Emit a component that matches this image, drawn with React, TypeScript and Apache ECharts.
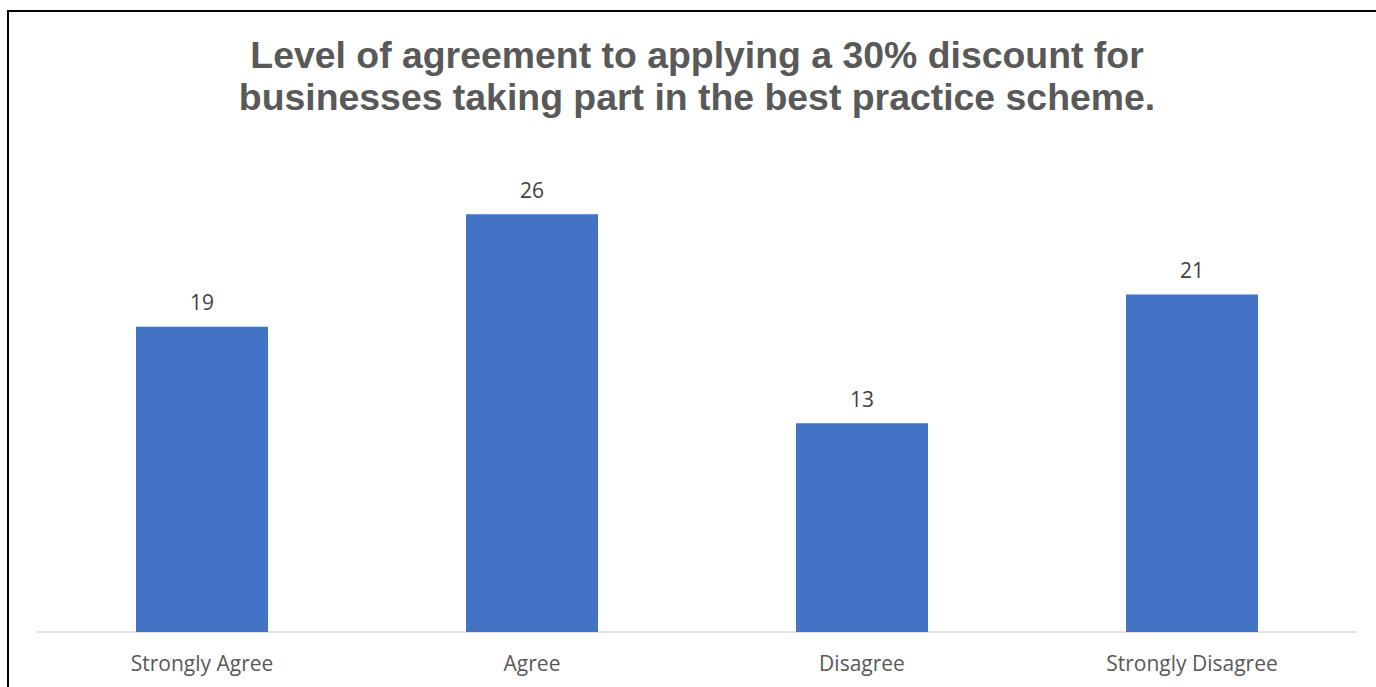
import React, { useEffect, useRef } from "react";
import * as echarts from "echarts";

const categories = ["Strongly Agree", "Agree", "Disagree", "Strongly Disagree"];
const values = [19, 26, 13, 21];
const titleLines = [
  "Level of agreement to applying a 30% discount for",
  "businesses taking part in the best practice scheme.",
];

export default function App() {
  const ref = useRef<HTMLDivElement>(null);
  useEffect(() => {
    if (!ref.current) return;
    const chart = echarts.init(ref.current, undefined, { renderer: "svg" });
    chart.setOption({
      animation: false,
      backgroundColor: "#ffffff",
      title: {
        text: titleLines.join("\n"),
        left: 692,
        top: 29,
        textAlign: "center",
        textStyle: {
          fontFamily: "Liberation Sans, Arial, sans-serif",
          fontWeight: "bold",
          fontSize: 37.4,
          lineHeight: 42,
          color: "#595959",
        },
      },
      graphic: [
        { type: "line", shape: { x1: 8, y1: 11, x2: 8, y2: 687 }, style: { stroke: "#000", lineWidth: 2 } },
        { type: "line", shape: { x1: 7, y1: 11, x2: 1376, y2: 11 }, style: { stroke: "#000", lineWidth: 2 } },
      ],
      grid: { left: 37, right: 19, top: 150, bottom: 55, containLabel: false },
      xAxis: {
        type: "category",
        data: categories,
        axisLine: { lineStyle: { color: "#D9D9D9", width: 1.5 } },
        axisTick: { show: false },
        axisLabel: {
          color: "#595959",
          fontFamily: "Open Sans, sans-serif",
          fontSize: 21,
          margin: 20,
        },
      },
      yAxis: {
        type: "value",
        min: 0,
        max: 30,
        show: false,
        splitLine: { show: false },
      },
      series: [
        {
          type: "bar",
          data: values,
          barWidth: "40%",
          itemStyle: { color: "#4472C4" },
          label: {
            show: true,
            position: "top",
            distance: 14,
            color: "#404040",
            fontFamily: "Open Sans, sans-serif",
            fontSize: 21,
          },
        },
      ],
    });
    return () => chart.dispose();
  }, []);
  return (
    <div
      ref={ref}
      style={{ position: "absolute", left: 0, top: 0, width: 1376, height: 687 }}
    />
  );
}
